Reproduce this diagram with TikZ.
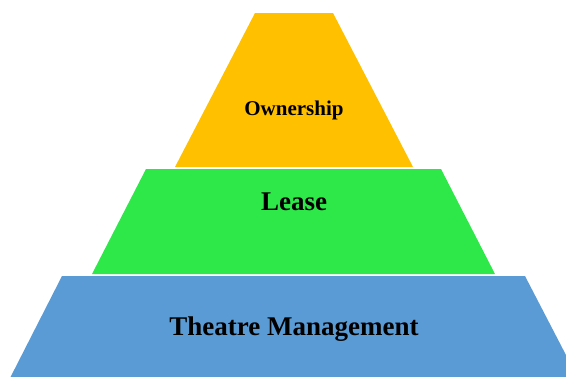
\documentclass[tikz,border=0pt]{standalone}
\usepackage{fontspec}
\setmainfont{Liberation Serif}
\definecolor{ownerclr}{HTML}{FFC000}
\definecolor{leaseclr}{HTML}{2EE84A}
\definecolor{mgmtclr}{HTML}{5B9BD5}
\tikzset{layertext/.style={font=\bfseries, text=black, inner sep=0pt}}
\begin{document}
\begin{tikzpicture}[x=1.0pt, y=-1.0pt]
	\useasboundingbox (0,0) rectangle (566,376);
	\clip (0,0) rectangle (566,376);

	% top layer
	\coordinate (A1) at (255,13);
	\coordinate (A2) at (333,13);
	\coordinate (A3) at (413,167);
	\coordinate (A4) at (175,167);
	% middle layer
	\coordinate (B1) at (146,169);
	\coordinate (B2) at (441,169);
	\coordinate (B3) at (495,274);
	\coordinate (B4) at (92,274);
	% bottom layer
	\coordinate (C1) at (62,276);
	\coordinate (C2) at (525,276);
	\coordinate (C3) at (580,382);
	\coordinate (C4) at (8,382);

	\fill [ownerclr] (A1) -- (A2) -- (A3) -- (A4) -- cycle;
	\fill [leaseclr] (B1) -- (B2) -- (B3) -- (B4) -- cycle;
	\fill [mgmtclr] (C1) -- (C2) -- (C3) -- (C4) -- cycle;

	\node [layertext, font=\bfseries\fontsize{21}{24}\selectfont] (owner) at (294,110) {Ownership};
	\node [layertext, font=\bfseries\fontsize{27}{30}\selectfont] (lease) at (294,202) {Lease};
	\node [layertext, font=\bfseries\fontsize{27}{30}\selectfont] (mgmt) at (294,329) {Theatre Management};

\end{tikzpicture}
\end{document}
